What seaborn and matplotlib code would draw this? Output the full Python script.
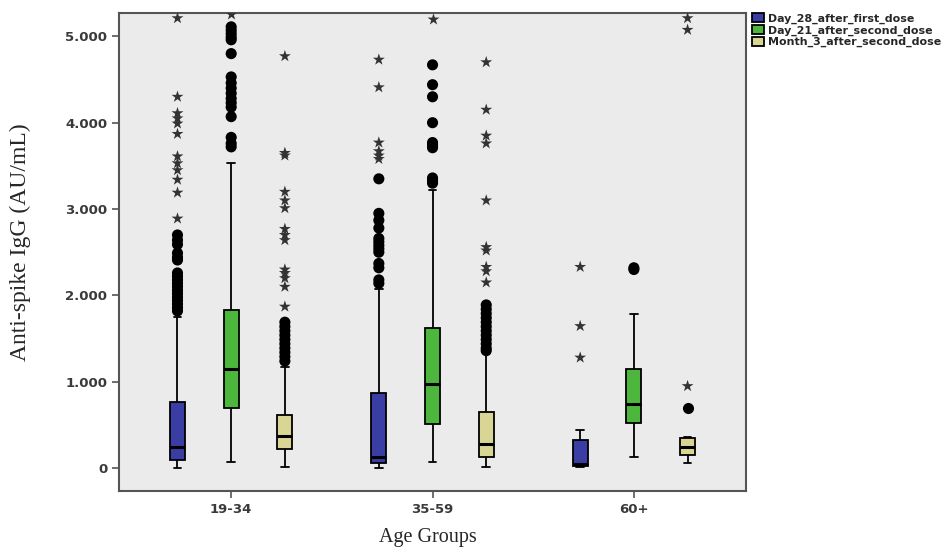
import numpy as np
import pandas as pd
import seaborn as sns
import matplotlib
matplotlib.use("Agg")
import matplotlib.pyplot as plt
from matplotlib.ticker import FuncFormatter

age_groups = ["19-34", "35-59", "60+"]
doses = ["Day_28_after_first_dose", "Day_21_after_second_dose", "Month_3_after_second_dose"]
dose_colors = ["#3a3ea4", "#4db63c", "#d9d595"]

# five-number summaries: low whisker, Q1, median, Q3, high whisker
day28_stats = [[0, 90, 247, 768, 1750], [3, 62, 131, 873, 2080], [8, 25, 45, 324, 440]]
day21_stats = [[73, 699, 1150, 1831, 3530], [73, 506, 973, 1619, 3220], [124, 525, 742, 1147, 1781]]
month3_stats = [[15, 216, 371, 614, 1174], [15, 131, 278, 645, 1348], [54, 151, 240, 344, 360]]

# outliers (circles) and extreme values (stars), per age group
day28_circles = [
    [2700, 2640, 2590, 2490, 2440, 2410, 2260, 2220, 2180, 2140, 2100, 2060, 2020, 1980, 1940, 1900, 1860, 1820],
    [3350, 2950, 2870, 2780, 2660, 2620, 2580, 2540, 2500, 2370, 2320, 2180, 2140],
    [],
]
day28_stars = [
    [5210, 4300, 4110, 4050, 3990, 3870, 3610, 3530, 3450, 3340, 3190, 2890],
    [4730, 4410, 3770, 3670, 3620, 3580],
    [2330, 1645, 1280],
]
day21_circles = [
    [5110, 5070, 5030, 4990, 4960, 4800, 4530, 4460, 4400, 4340, 4280, 4230, 4180, 4070, 3830, 3760, 3720],
    [4670, 4440, 4300, 4000, 3770, 3740, 3710, 3360, 3330, 3300],
    [2320, 2300],
]
day21_stars = [[5260], [5200], []]
month3_circles = [
    [1690, 1640, 1590, 1540, 1490, 1440, 1390, 1340, 1290, 1240],
    [1890, 1840, 1790, 1740, 1690, 1640, 1590, 1540, 1490, 1440, 1390, 1360],
    [700],
]
month3_stars = [
    [4770, 3650, 3620, 3200, 3100, 3010, 2770, 2700, 2640, 2300, 2260, 2200, 2100, 1870],
    [4700, 4150, 3850, 3760, 3100, 2560, 2520, 2330, 2280, 2150],
    [5210, 5075, 950],
]


def to_long(per_dose):
    rows = []
    for dose, groups in zip(doses, per_dose):
        for age, vals in zip(age_groups, groups):
            for v in vals:
                rows.append((age, dose, v))
    return pd.DataFrame(rows, columns=["age", "dose", "igg"])


box_df = to_long([day28_stats, day21_stats, month3_stats])
circ_df = to_long([day28_circles, day21_circles, month3_circles])
star_df = to_long([day28_stars, day21_stars, month3_stars])

sns.set_style("ticks", {"axes.facecolor": "#ebebeb", "axes.edgecolor": "#555555"})

fig = plt.figure(figsize=(9.5, 5.49), dpi=100)
ax = fig.add_axes([0.1253, 0.1056, 0.6600, 0.8707])

sns.boxplot(data=box_df, x="age", y="igg", hue="dose", order=age_groups, hue_order=doses,
            palette=dose_colors, saturation=1, whis=(0, 100), showfliers=False, width=0.8,
            gap=0.72, linecolor="black", linewidth=1.3, medianprops={"linewidth": 2.2}, ax=ax)
sns.stripplot(data=circ_df, x="age", y="igg", hue="dose", order=age_groups, hue_order=doses,
              palette=["black"] * 3, dodge=True, jitter=False, marker="o", size=8,
              legend=False, ax=ax)
sns.stripplot(data=star_df, x="age", y="igg", hue="dose", order=age_groups, hue_order=doses,
              palette=["#333333"] * 3, dodge=True, jitter=False, marker="*", size=9,
              legend=False, ax=ax)

ax.set_xlim(-0.557, 2.557)
ax.set_ylim(-265, 5270)
ax.set_yticks([0, 1000, 2000, 3000, 4000, 5000])
ax.yaxis.set_major_formatter(FuncFormatter(lambda v, p: f"{int(v):,}".replace(",", ".")))
for s in ax.spines.values():
    s.set_visible(True)
    s.set_linewidth(1.5)
ax.tick_params(axis="both", bottom=True, left=True, direction="out", length=5, width=1.2,
               color="#555555", labelsize=9.5, labelcolor="#3a3a3a")
for t in ax.get_xticklabels() + ax.get_yticklabels():
    t.set_fontweight("bold")

ax.set_xlabel("Age Groups", family="Liberation Serif", fontsize=14.5)
ax.set_ylabel("Anti-spike IgG (AU/mL)", family="Liberation Serif", fontsize=17)
ax.xaxis.set_label_coords(0.493, -0.078)
ax.yaxis.set_label_coords(-0.14, 0.52)

handles, labels = ax.get_legend_handles_labels()
ax.legend(handles, labels, loc="upper left", bbox_to_anchor=(1.01, 1.0), frameon=False,
          handlelength=1.1, handleheight=0.9, handletextpad=0.35,
          labelspacing=0.12, borderaxespad=0.0, borderpad=0.0,
          prop={"weight": "bold", "size": 7.9})

fig.savefig("out.png", dpi=100)
